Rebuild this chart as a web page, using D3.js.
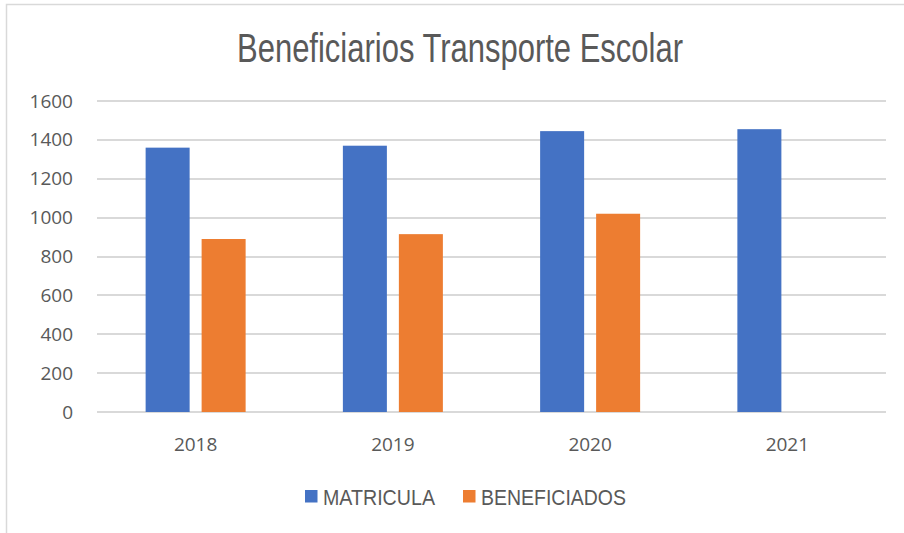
<!DOCTYPE html>
<html>
<head>
<meta charset="utf-8">
<script src="https://d3js.org/d3.v7.min.js"></script>
<style>
  body { margin: 0; background: #fff; }
  .grid line { stroke: #d9d9d9; stroke-width: 1.3; shape-rendering: crispEdges; }
</style>
</head>
<body>
<div id="chart"></div>
<script>
// data
var years = ["2018", "2019", "2020", "2021"];
var seriesNames = ["MATRICULA", "BENEFICIADOS"];
var matricula = [1360, 1370, 1445, 1455];
var beneficiados = [890, 915, 1020, null];
var yTicks = [0, 200, 400, 600, 800, 1000, 1200, 1400, 1600];
var colors = ["#4472c4", "#ed7d31"];

var W = 904, H = 533;
var plotLeft = 97, plotRight = 886, plotTop = 101, plotBottom = 412;

var svg = d3.select("#chart").append("svg")
  .attr("width", W).attr("height", H);

// chart frame
svg.append("rect")
  .attr("x", 6.5).attr("y", 4.5)
  .attr("width", W + 10).attr("height", H + 10)
  .attr("fill", "none").attr("stroke", "#d9d9d9").attr("stroke-width", 1.5);

var x0 = d3.scaleBand().domain(years).range([plotLeft, plotRight]);
var x1 = d3.scaleBand().domain(seriesNames).range([0, 100]).paddingInner(0.214);
var y = d3.scaleLinear().domain([0, 1600]).range([plotBottom, plotTop]);

// gridlines
svg.append("g").attr("class", "grid")
  .selectAll("line").data(yTicks).enter().append("line")
  .attr("x1", plotLeft).attr("x2", plotRight)
  .attr("y1", function(d) { return Math.round(y(d)); })
  .attr("y2", function(d) { return Math.round(y(d)); });

var tickFont = "'Open Sans', 'DejaVu Sans', sans-serif";

// y tick labels
var yAxis = svg.append("g")
  .attr("transform", "translate(73,0)")
  .call(d3.axisLeft(y).tickValues(yTicks).tickSize(0).tickPadding(0).tickFormat(d3.format("d")));
yAxis.select(".domain").remove();
yAxis.selectAll("text")
  .style("font-family", tickFont)
  .style("font-size", "19px").attr("fill", "#595959");

// x tick labels
var xAxis = svg.append("g")
  .attr("transform", "translate(0,451)")
  .call(d3.axisBottom(x0).tickSize(0).tickPadding(0));
xAxis.select(".domain").remove();
xAxis.selectAll("text")
  .attr("dy", 0)
  .style("font-family", tickFont)
  .style("font-size", "19px").attr("fill", "#595959");

// bars
var rows = years.map(function(yr, i) {
  return { year: yr, vals: [matricula[i], beneficiados[i]] };
});
var groups = svg.selectAll("g.yr").data(rows).enter().append("g")
  .attr("class", "yr")
  .attr("transform", function(d) {
    return "translate(" + (x0(d.year) + (x0.bandwidth() - 100) / 2) + ",0)";
  });
groups.selectAll("rect")
  .data(function(d) {
    return d.vals.map(function(v, j) { return { s: seriesNames[j], v: v, j: j }; })
      .filter(function(e) { return e.v != null; });
  })
  .enter().append("rect")
  .attr("x", function(d) { return x1(d.s); })
  .attr("width", x1.bandwidth())
  .attr("y", function(d) { return y(d.v); })
  .attr("height", function(d) { return y(0) - y(d.v); })
  .attr("fill", function(d) { return colors[d.j]; });

var narrowFont = "'Liberation Sans', Arial, sans-serif";

// title
svg.append("text")
  .attr("x", 237).attr("y", 62)
  .attr("textLength", 446).attr("lengthAdjust", "spacingAndGlyphs")
  .style("font-family", narrowFont)
  .style("font-size", "41px").attr("fill", "#595959")
  .text("Beneficiarios Transporte Escolar");

// legend
var legX = [305, 463];
var legW = [112, 145];
var leg = svg.selectAll("g.leg").data(seriesNames).enter().append("g")
  .attr("class", "leg")
  .attr("transform", function(d, i) { return "translate(" + legX[i] + ",490)"; });
leg.append("rect").attr("width", 12.5).attr("height", 12.5)
  .attr("fill", function(d, i) { return colors[i]; });
leg.append("text")
  .attr("x", 18).attr("y", 14.5)
  .attr("textLength", function(d, i) { return legW[i]; })
  .attr("lengthAdjust", "spacingAndGlyphs")
  .style("font-family", narrowFont)
  .style("font-size", "22px").attr("fill", "#595959")
  .text(function(d) { return d; });
</script>
</body>
</html>
